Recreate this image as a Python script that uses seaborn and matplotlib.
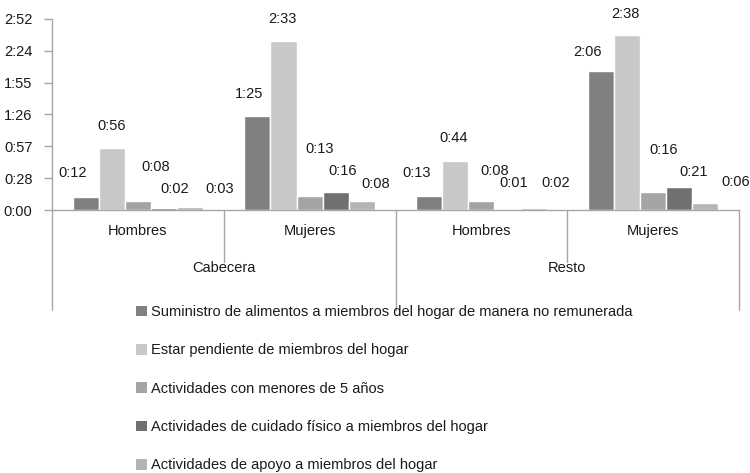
import numpy as np
import pandas as pd
import seaborn as sns
import matplotlib
matplotlib.use("Agg")
import matplotlib.pyplot as plt
from matplotlib import font_manager
from matplotlib.patches import Rectangle
from matplotlib.transforms import blended_transform_factory

# ---------------- data ----------------
zones = ["Cabecera", "Cabecera", "Resto", "Resto"]
sexes = ["Hombres", "Mujeres", "Hombres", "Mujeres"]
zone_names = ["Cabecera", "Resto"]
series_names = [
    "Suministro de alimentos a miembros del hogar de manera no remunerada",
    "Estar pendiente de miembros del hogar",
    "Actividades con menores de 5 años",
    "Actividades de cuidado físico a miembros del hogar",
    "Actividades de apoyo a miembros del hogar",
]
# minutes per day
suministro = [12, 85, 13, 126]
pendiente = [56, 153, 44, 158]
menores = [8, 13, 8, 16]
cuidado = [2, 16, 1, 21]
apoyo = [3, 8, 2, 6]

ytick_minutes = [0, 28.8, 57.6, 86.4, 115.2, 144.0, 172.8]
ytick_labels = ["0:00", "0:28", "0:57", "1:26", "1:55", "2:24", "2:52"]

# label offsets (pixels) per group, per series
label_offsets = [
    [(-13, 24), (0, 22), (18, 34), (11, 19), (30, 18)],
    [(-8, 22), (-1, 22), (10, 47), (7, 21), (14, 17)],
    [(-13, 23), (-2, 23), (13, 30), (6, 26), (22, 25)],
    [(-13, 19), (-2, 21), (11, 42), (14, 15), (30, 21)],
]
colors = ["#808080", "#c8c8c8", "#a4a4a4", "#707070", "#b4b4b4"]

# ---------------- style ----------------
sns.set_style("white")
try:
    font_manager.findfont("Liberation Sans Narrow", fallback_to_default=False)
    fam, fs = "Liberation Sans Narrow", 12
except Exception:
    fam, fs = "Liberation Sans", 10.5
plt.rcParams["font.family"] = [fam, "DejaVu Sans"]
txt_color = "#1a1a1a"
line_color = "#a6a6a6"

keys = [f"{z}-{s}" for z, s in zip(zones, sexes)]
all_vals = [suministro, pendiente, menores, cuidado, apoyo]
rows = []
for sname, vals in zip(series_names, all_vals):
    for k, v in zip(keys, vals):
        rows.append({"grupo": k, "serie": sname, "minutos": v})
df = pd.DataFrame(rows)

fig = plt.figure(figsize=(7.5, 4.73), dpi=100)
ax = fig.add_axes([52 / 750, 1 - 210 / 473, (739 - 52) / 750, (210 - 19) / 473])

sns.barplot(data=df, x="grupo", y="minutos", hue="serie", order=keys,
            hue_order=series_names, palette=colors, width=0.76,
            saturation=1, legend=False, ax=ax, errorbar=None)

ax.set_xlim(-0.5, 3.5)
ax.set_ylim(0, ytick_minutes[-1])
ax.set_yticks(ytick_minutes)
ax.set_yticklabels(ytick_labels, fontsize=fs, color=txt_color)
ax.set_xticks(range(len(keys)))
ax.set_xticklabels(sexes, fontsize=fs, color=txt_color)
ax.tick_params(axis="x", length=0, pad=10)
ax.tick_params(axis="y", length=6, width=1, color=line_color, direction="out", pad=8, left=True)
ax.set_xlabel("")
ax.set_ylabel("")
for s in ["top", "right"]:
    ax.spines[s].set_visible(False)
for s in ["left", "bottom"]:
    ax.spines[s].set_color(line_color)
    ax.spines[s].set_linewidth(1)

# data labels
for i, cont in enumerate(ax.containers):
    for j, bar in enumerate(cont):
        v = all_vals[i][j]
        cx = bar.get_x() + bar.get_width() / 2
        top = bar.get_height()
        dx, dy = label_offsets[j][i]
        ax.annotate(f"{v // 60}:{v % 60:02d}", xy=(cx, top), xytext=(dx, dy),
                    textcoords="offset pixels", ha="center", va="center",
                    fontsize=fs, color=txt_color, annotation_clip=False)

# category dividers & outer labels
trans = blended_transform_factory(ax.transData, ax.transAxes)
for x in [0.5, 2.5]:
    ax.plot([x, x], [0, -0.27], transform=trans, color=line_color, lw=1, clip_on=False)
for x in [-0.5, 1.5, 3.5]:
    ax.plot([x, x], [0, -0.524], transform=trans, color=line_color, lw=1, clip_on=False)
for k, zn in enumerate(zone_names):
    ax.text(0.5 + 2 * k, -0.305, zn, transform=trans, ha="center", va="center",
            fontsize=fs, color=txt_color)

# legend
handles = [Rectangle((0, 0), 1, 1, facecolor=c, edgecolor="none") for c in colors]
fig.legend(handles, series_names, loc="upper left",
           bbox_to_anchor=(136 / 750, 1 - 305 / 473), frameon=False,
           fontsize=fs, handlelength=0.75, handleheight=0.75, handletextpad=0.25,
           labelspacing=1.67, borderpad=0, borderaxespad=0, labelcolor=txt_color)

fig.savefig("out.png", dpi=100)
